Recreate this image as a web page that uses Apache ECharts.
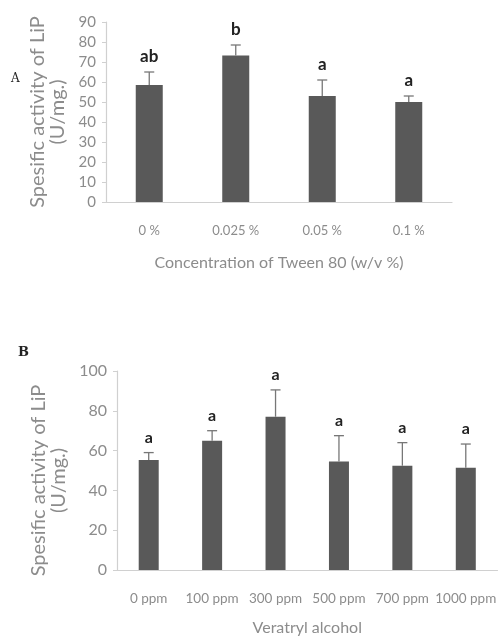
<!DOCTYPE html>
<html><head><meta charset="utf-8">
<script src="https://cdn.jsdelivr.net/npm/echarts@6/dist/echarts.min.js"></script>
<style>html,body{margin:0;padding:0;background:#fff}#c{width:499px;height:639px}</style>
</head><body><div id="c"></div>
<script>
// Panel A data
var catsA = ['0 %', '0.025 %', '0.05 %', '0.1 %'];
var meanA = [58.5, 73.2, 53, 50];
var errTopA = [65, 78.5, 61, 53];
var lettersA = ['ab', 'b', 'a', 'a'];
var ticksA = {min: 0, max: 90, interval: 10};
// Panel B data
var catsB = ['0 ppm', '100 ppm', '300 ppm', '500 ppm', '700 ppm', '1000 ppm'];
var meanB = [55.3, 65, 77, 54.5, 52.4, 51.4];
var errTopB = [59, 70, 90.5, 67.5, 64, 63.3];
var lettersB = ['a', 'a', 'a', 'a', 'a', 'a'];
var ticksB = {min: 0, max: 100, interval: 20};

var FONT = 'Lato';
var BAR = '#595959';
var AX = '#d0d0d0';
var TXT = '#8c8c8c';

function errSeries(idx, means, tops, letters, capW, fs) {
  return {
    type: 'custom', xAxisIndex: idx, yAxisIndex: idx, z: 5,
    data: means.map(function (m, i) { return [i, m, tops[i]]; }),
    renderItem: function (params, api) {
      var i = api.value(0);
      var p0 = api.coord([i, api.value(1)]);
      var p1 = api.coord([i, api.value(2)]);
      var st = {stroke: '#777', lineWidth: 1.3};
      return {type: 'group', children: [
        {type: 'line', shape: {x1: p0[0], y1: p0[1], x2: p1[0], y2: p1[1]}, style: st},
        {type: 'line', shape: {x1: p1[0] - capW, y1: p1[1], x2: p1[0] + capW, y2: p1[1]}, style: st},
        {type: 'text', x: p1[0], y: p1[1] - 15,
          style: {text: letters[i], fill: '#222', font: 'bold ' + fs + 'px ' + FONT, align: 'center', verticalAlign: 'middle'}}
      ]};
    }
  };
}

function xAx(idx, cats, name, gap, fs) {
  return {
    type: 'category', gridIndex: idx, data: cats,
    axisLine: {lineStyle: {color: AX, width: 1.2}},
    axisTick: {show: false},
    axisLabel: {color: TXT, fontFamily: FONT, fontSize: fs, margin: 22, interval: 0, hideOverlap: false},
    name: name, nameLocation: 'middle', nameGap: gap,
    nameTextStyle: {color: TXT, fontFamily: FONT, fontSize: 16}
  };
}
function yAx(idx, t, gap, fs, pad) {
  return {
    type: 'value', gridIndex: idx, min: t.min, max: t.max, interval: t.interval,
    splitLine: {show: false},
    axisLine: {show: true, lineStyle: {color: AX, width: 1.2}},
    axisTick: {show: true, length: 4, lineStyle: {color: AX}},
    axisLabel: {color: TXT, fontFamily: FONT, fontSize: fs, margin: 10},
    name: 'Spesific activity of LiP\n(U/mg.)', nameLocation: 'middle', nameGap: gap,
    nameTextStyle: {color: TXT, fontFamily: FONT, fontSize: 20, lineHeight: 20, padding: pad}
  };
}

var chart = echarts.init(document.getElementById('c'), null, {renderer: 'canvas'});
chart.setOption({
  animation: false,
  grid: [
    {left: 106, top: 22, width: 346, height: 180},
    {left: 117, top: 371, width: 384, height: 199}
  ],
  xAxis: [
    xAx(0, catsA, 'Concentration of Tween 80 (w/v %)', 53, 13),
    xAx(1, catsB, 'Veratryl alcohol', 50, 13.5)
  ],
  yAxis: [yAx(0, ticksA, 38, 15, 0), yAx(1, ticksB, 32, 16, [0, 20, 0, 0])],
  series: [
    {type: 'bar', xAxisIndex: 0, yAxisIndex: 0, data: meanA, barWidth: 27, itemStyle: {color: BAR}},
    {type: 'bar', xAxisIndex: 1, yAxisIndex: 1, data: meanB, barWidth: 20, itemStyle: {color: BAR}},
    errSeries(0, meanA, errTopA, lettersA, 5, 17),
    errSeries(1, meanB, errTopB, lettersB, 5, 16)
  ],
  graphic: [
    {type: 'text', left: 11, top: 73, style: {text: 'A', font: '12px DejaVu Serif', fill: '#222'}},
    {type: 'text', left: 18, top: 346, style: {text: 'B', font: 'bold 13px DejaVu Serif', fill: '#222'}}
  ]
});
</script></body></html>
